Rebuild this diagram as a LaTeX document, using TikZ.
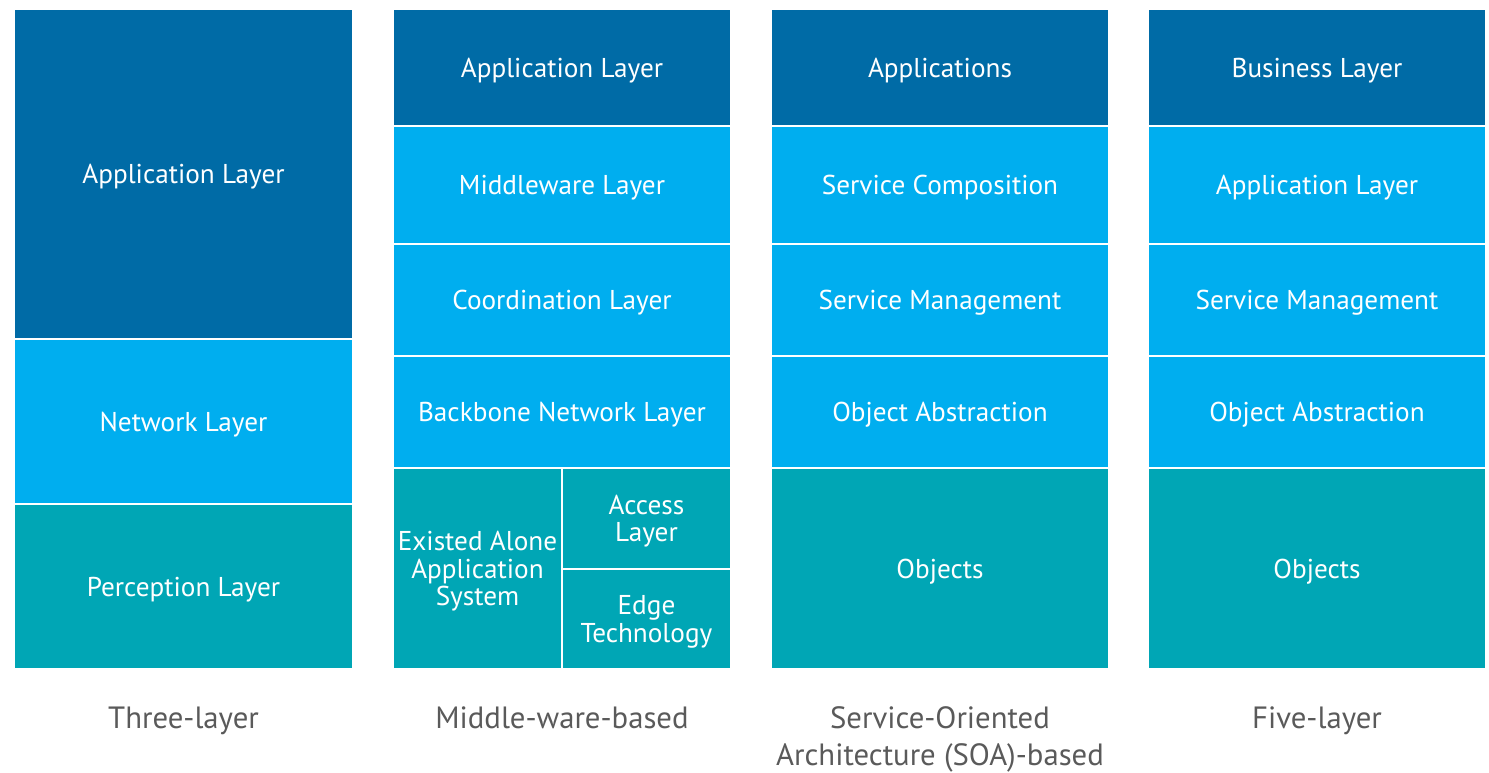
\documentclass[tikz,border=0pt]{standalone}
\usepackage{fontspec}
\setmainfont{PT Sans}
\definecolor{topblue}{HTML}{006BA6}
\definecolor{midblue}{HTML}{00AEEF}
\definecolor{baseteal}{HTML}{00A6B5}
\definecolor{captiongray}{HTML}{5A5A5A}
\tikzset{
  tile/.style={rectangle, draw=none, inner sep=0pt, text=white, align=center, text depth=0pt,
    font=\fontsize{15.5}{15.5}\selectfont},
  caption/.style={text=captiongray, align=center, text depth=0pt, font=\fontsize{17.5}{21.5}\selectfont}
}
\begin{document}
\begin{tikzpicture}[x=0.02cm, y=-0.02cm]
\useasboundingbox (0,0) rectangle (1489,773);
% three-layer
\node[tile, fill=topblue, minimum width=6.74cm, minimum height=6.56cm] (tApp) at (183.5,174) {Application Layer};
\node[tile, fill=midblue, minimum width=6.74cm, minimum height=3.26cm] (tNet) at (183.5,421.5) {Network Layer};
\node[tile, fill=baseteal, minimum width=6.74cm, minimum height=3.26cm] (tPer) at (183.5,586.5) {Perception Layer};
\node[caption] (tCap) at (183.5,718) {Three-layer};
% middle-ware-based
\node[tile, fill=topblue, minimum width=6.72cm, minimum height=2.30cm] (mApp) at (562,67.5) {Application Layer};
\node[tile, fill=midblue, minimum width=6.72cm, minimum height=2.32cm] (mMid) at (562,185) {Middleware Layer};
\node[tile, fill=midblue, minimum width=6.72cm, minimum height=2.20cm] (mCoo) at (562,300) {Coordination Layer};
\node[tile, fill=midblue, minimum width=6.72cm, minimum height=2.20cm] (mBac) at (562,412) {Backbone Network Layer};
\node[tile, fill=baseteal, minimum width=3.34cm, minimum height=3.98cm] (mAlo) at (477.5,568.5) {Existed Alone\\Application\\System};
\node[tile, fill=baseteal, minimum width=3.34cm, minimum height=1.98cm] (mAcc) at (646.5,518.5) {Access\\Layer};
\node[tile, fill=baseteal, minimum width=3.34cm, minimum height=1.96cm] (mEdg) at (646.5,619) {Edge\\Technology};
\node[caption] (mCap) at (562,718) {Middle-ware-based};
% SOA-based
\node[tile, fill=topblue, minimum width=6.72cm, minimum height=2.30cm] (sApp) at (940,67.5) {Applications};
\node[tile, fill=midblue, minimum width=6.72cm, minimum height=2.32cm] (sCom) at (940,185) {Service Composition};
\node[tile, fill=midblue, minimum width=6.72cm, minimum height=2.20cm] (sMan) at (940,300) {Service Management};
\node[tile, fill=midblue, minimum width=6.72cm, minimum height=2.20cm] (sAbs) at (940,412) {Object Abstraction};
\node[tile, fill=baseteal, minimum width=6.72cm, minimum height=3.98cm] (sObj) at (940,568.5) {Objects};
\node[caption] (sCap) at (940,736) {Service-Oriented\\Architecture (SOA)-based};
% five-layer
\node[tile, fill=topblue, minimum width=6.72cm, minimum height=2.30cm] (fBus) at (1317,67.5) {Business Layer};
\node[tile, fill=midblue, minimum width=6.72cm, minimum height=2.32cm] (fApp) at (1317,185) {Application Layer};
\node[tile, fill=midblue, minimum width=6.72cm, minimum height=2.20cm] (fMan) at (1317,300) {Service Management};
\node[tile, fill=midblue, minimum width=6.72cm, minimum height=2.20cm] (fAbs) at (1317,412) {Object Abstraction};
\node[tile, fill=baseteal, minimum width=6.72cm, minimum height=3.98cm] (fObj) at (1317,568.5) {Objects};
\node[caption] (fCap) at (1317,718) {Five-layer};
\end{tikzpicture}
\end{document}
